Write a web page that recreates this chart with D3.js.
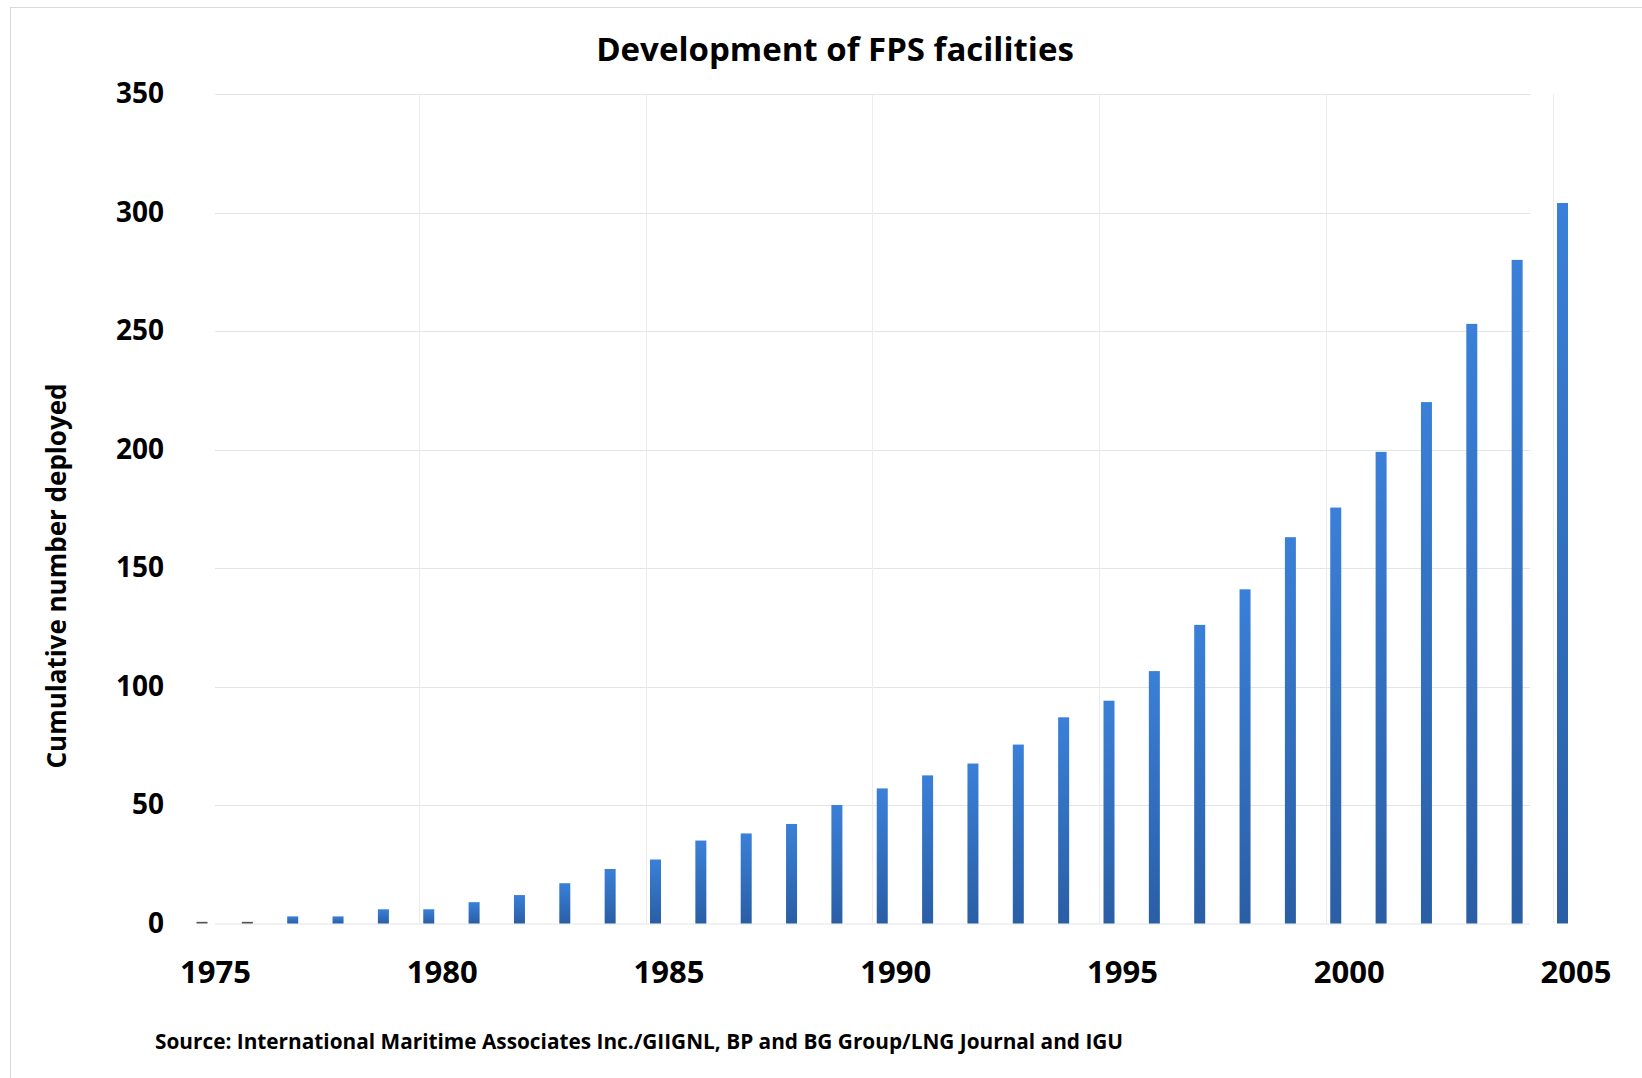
<!DOCTYPE html>
<html>
<head>
<meta charset="utf-8">
<script src="https://cdnjs.cloudflare.com/ajax/libs/d3/7.8.5/d3.min.js"></script>
<style>
  body { margin: 0; background: #fff; }
  text { font-family: "Open Sans", "DejaVu Sans", sans-serif; font-weight: bold; fill: #000; }
</style>
</head>
<body>
<div id="chart"></div>
<script>
// years on the x axis
var years = d3.range(1975, 2006);
// cumulative number of FPS facilities deployed
var deployed = [0.7, 0.7, 3, 3, 6, 6, 9, 12, 17, 23, 27, 35, 38, 42, 50, 57, 62.5, 67.5, 75.5, 87, 94,
  106.5, 126, 141, 163, 175.5, 199, 220, 253, 280, 304];
var yTicks = [0, 50, 100, 150, 200, 250, 300, 350];
var xTicks = [1975, 1980, 1985, 1990, 1995, 2000, 2005];
var gridYears = [1980, 1985, 1990, 1995, 2000, 2005];
var titleText = "Development of FPS facilities";
var yTitle = "Cumulative number deployed";
var sourceText = "Source: International Maritime Associates Inc./GIIGNL, BP and BG Group/LNG Journal and IGU";

var width = 1642, height = 1078;
var svg = d3.select("#chart").append("svg")
  .attr("width", width)
  .attr("height", height);

// gradient for the bars
var grad = svg.append("defs").append("linearGradient")
  .attr("id", "barGrad")
  .attr("x1", 0).attr("y1", 0).attr("x2", 0).attr("y2", 1);
grad.append("stop").attr("offset", "0%").attr("stop-color", "#3a80d8");
grad.append("stop").attr("offset", "100%").attr("stop-color", "#2a5ea5");

// outer frame
svg.append("rect")
  .attr("x", 10.5).attr("y", 7.5)
  .attr("width", width).attr("height", height)
  .attr("fill", "none")
  .attr("stroke", "#d9d9d9");

// scales
var x = d3.scaleLinear().domain([1975, 2005]).range([202, 1562.5]);
var y = d3.scaleLinear().domain([0, 350]).range([923.5, 94]);
var gridLeft = 215, gridRight = 1530;

// horizontal gridlines
svg.append("g").selectAll("line")
  .data(yTicks.slice(1))
  .enter().append("line")
  .attr("x1", gridLeft).attr("x2", gridRight)
  .attr("y1", function(d) { return Math.round(y(d)) + 0.5; })
  .attr("y2", function(d) { return Math.round(y(d)) + 0.5; })
  .attr("stroke", "#e4e4e4")
  .attr("stroke-width", 1);

// vertical gridlines sit a little left of the bar of the same year
svg.append("g").selectAll("line")
  .data(gridYears)
  .enter().append("line")
  .attr("x1", function(d) { return Math.round(x(d) - 10) + 0.5; })
  .attr("x2", function(d) { return Math.round(x(d) - 10) + 0.5; })
  .attr("y1", y(350)).attr("y2", y(0))
  .attr("stroke", "#ececec")
  .attr("stroke-width", 1);

// baseline
svg.append("line")
  .attr("x1", gridLeft).attr("x2", gridRight)
  .attr("y1", y(0) + 0.5).attr("y2", y(0) + 0.5)
  .attr("stroke", "#e4e4e4");

// bars
var barW = 11;
svg.append("g").selectAll("rect")
  .data(deployed)
  .enter().append("rect")
  .attr("x", function(d, i) { return x(years[i]) - barW / 2; })
  .attr("y", function(d) { return y(d); })
  .attr("width", barW)
  .attr("height", function(d) { return y(0) - y(d); })
  .attr("fill", function(d) { return d < 2 ? "#555" : "url(#barGrad)"; });

// y axis
var yAxis = svg.append("g")
  .attr("transform", "translate(" + gridLeft + ",0)")
  .call(d3.axisLeft(y).tickValues(yTicks).tickSize(0).tickPadding(51));
yAxis.select(".domain").remove();
yAxis.selectAll("text")
  .style("font-size", "28px")
  .style("font-family", "'Open Sans', sans-serif")
  .style("font-weight", "bold")
  .attr("fill", "#000");

// x axis
var xAxis = svg.append("g")
  .attr("transform", "translate(0," + y(0) + ")")
  .call(d3.axisBottom(x).tickValues(xTicks).tickFormat(d3.format("d")).tickSize(0).tickPadding(37));
xAxis.select(".domain").remove();
xAxis.selectAll("text")
  .attr("dx", 13)
  .style("font-size", "31px")
  .style("font-family", "'Open Sans', sans-serif")
  .style("font-weight", "bold")
  .attr("fill", "#000");

// title
svg.append("text")
  .attr("x", 835).attr("y", 61)
  .attr("text-anchor", "middle")
  .style("font-size", "33px")
  .text(titleText);

// y axis title
svg.append("text")
  .attr("transform", "translate(66,576) rotate(-90)")
  .attr("text-anchor", "middle")
  .style("font-size", "26px")
  .text(yTitle);

// source note
svg.append("text")
  .attr("x", 155).attr("y", 1049)
  .style("font-size", "20.8px")
  .text(sourceText);
</script>
</body>
</html>
